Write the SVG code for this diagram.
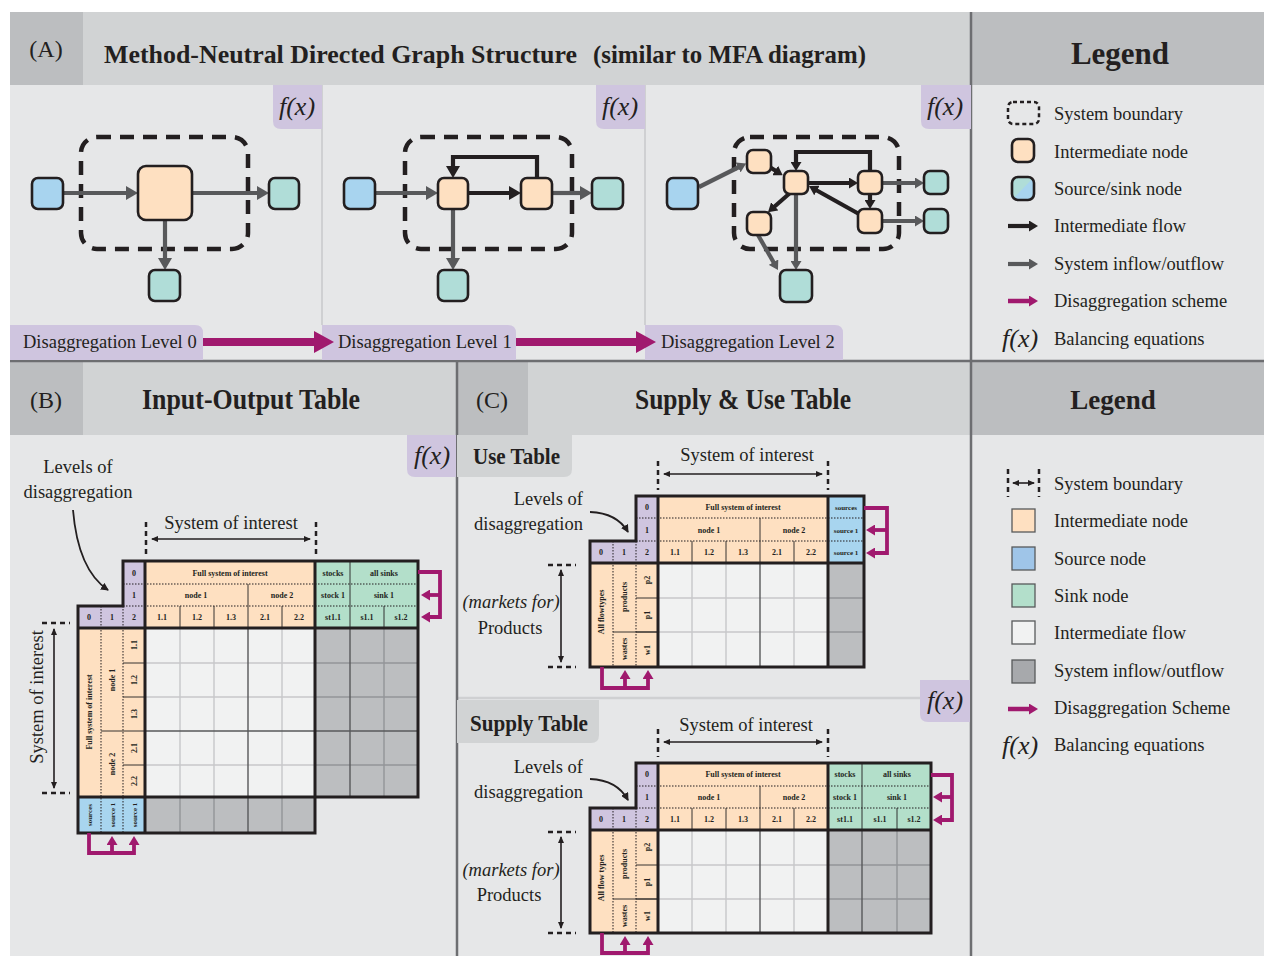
<svg xmlns="http://www.w3.org/2000/svg" width="1264" height="956" viewBox="0 0 1264 956">
<style>
.t{font-family:"Liberation Serif",serif;fill:#231f20}
.ti{font-size:29px;font-weight:bold}
.lb{font-size:24px}
.lg{font-size:18.5px}
.fx{font-size:26px;font-style:italic}
.tb{font-size:8px;font-weight:bold;text-anchor:middle}
.tbs{font-size:7px;font-weight:bold;text-anchor:middle}
.nd{stroke:#231f20;stroke-width:2.6}
.src{fill:#a8d4ef}.snk{fill:#b0ddd8}.mid{fill:#fee0c1}
.fg{stroke:#58595b;stroke-width:4.2;fill:none}
.fb{stroke:#231f20;stroke-width:4.2;fill:none}
.bd{fill:none;stroke:#231f20;stroke-width:4.5;stroke-dasharray:14 9}
.pu{fill:#cfc5df}.pe{fill:#fee0c1}.gr{fill:#b3dfca}.bl{fill:#a8d5ef}.wh{fill:#f1f2f2}.gy{fill:#bcbec0}
.dot{stroke:#231f20;stroke-width:1;stroke-dasharray:1.5 1.5;fill:none}
.sol{stroke:#231f20;stroke-width:0.9;fill:none}
.gl{stroke:#c7c8ca;stroke-width:1.4;fill:none}
.gm{stroke:#58595b;stroke-width:1.4;fill:none}
.gd{stroke:#939598;stroke-width:1.4;fill:none}
.thk{stroke:#231f20;stroke-width:3;fill:none}
.tick{stroke:#231f20;stroke-width:2.5;stroke-dasharray:5 4;fill:none}
.dbl{stroke:#231f20;stroke-width:1.6;fill:none;marker-start:url(#ak);marker-end:url(#ak)}
.mg{stroke:#a0196e;stroke-width:3.8;fill:none}
.hdr{fill:#d1d3d4}.hdd{fill:#bcbec0}.body{fill:#e6e7e8}
</style>
<defs>
<marker id="ag" viewBox="0 0 12 14" markerWidth="12" markerHeight="14" refX="1" refY="7" orient="auto" markerUnits="userSpaceOnUse"><path d="M0,0 L12,7 L0,14 Z" fill="#58595b"/></marker>
<marker id="ab" viewBox="0 0 12 14" markerWidth="12" markerHeight="14" refX="1" refY="7" orient="auto" markerUnits="userSpaceOnUse"><path d="M0,0 L12,7 L0,14 Z" fill="#231f20"/></marker>
<marker id="ags" viewBox="0 0 9 11" markerWidth="9" markerHeight="11" refX="1" refY="5.5" orient="auto" markerUnits="userSpaceOnUse"><path d="M0,0 L9,5.5 L0,11 Z" fill="#58595b"/></marker>
<marker id="abs" viewBox="0 0 9 11" markerWidth="9" markerHeight="11" refX="1" refY="5.5" orient="auto" markerUnits="userSpaceOnUse"><path d="M0,0 L9,5.5 L0,11 Z" fill="#231f20"/></marker>
<marker id="am" viewBox="0 0 9 11" markerWidth="9" markerHeight="11" refX="1" refY="5.5" orient="auto" markerUnits="userSpaceOnUse"><path d="M0,0 L9,5.5 L0,11 Z" fill="#a0196e"/></marker>
<marker id="ak" viewBox="0 0 7 6" markerWidth="7" markerHeight="6" refX="6" refY="3" orient="auto-start-reverse" markerUnits="userSpaceOnUse"><path d="M0,0 L7,3 L0,6 Z" fill="#231f20"/></marker>
<marker id="akc" viewBox="0 0 8 8" markerWidth="8" markerHeight="8" refX="7" refY="4" orient="auto" markerUnits="userSpaceOnUse"><path d="M0,0 L8,4 L0,8 Z" fill="#231f20"/></marker>
<clipPath id="ssclip"><rect x="1012" y="177" width="22" height="23" rx="6"/></clipPath>
</defs>

<!-- backgrounds -->
<rect x="0" y="0" width="1264" height="956" fill="#ffffff"/>
<g id="panelA-bg">
<rect class="hdr" x="10" y="12" width="961" height="73"/>
<rect class="hdd" x="10" y="12" width="73" height="73"/>
<rect class="body" x="10" y="85" width="961" height="276"/>
<rect class="hdd" x="971" y="12" width="293" height="73"/>
<rect class="body" x="971" y="85" width="293" height="276"/>
<path d="M322,85 V325 M645,85 V325" stroke="#cfd0d2" stroke-width="2" fill="none"/>
</g>
<g id="panelBC-bg">
<rect class="hdr" x="10" y="361" width="447" height="74"/>
<rect class="hdd" x="10" y="361" width="73" height="74"/>
<rect class="body" x="10" y="435" width="447" height="521"/>
<rect class="hdr" x="457" y="361" width="514" height="74"/>
<rect class="hdd" x="457" y="361" width="71" height="74"/>
<rect class="body" x="457" y="435" width="514" height="521"/>
<rect class="hdd" x="971" y="361" width="293" height="74"/>
<rect class="body" x="971" y="435" width="293" height="521"/>
<path d="M457,698 H971" stroke="#cfd0d2" stroke-width="2.5" fill="none"/>
</g>
<g id="separators">
<path d="M10,361 H1264" stroke="#6d6e71" stroke-width="2.5"/>
<path d="M971,12 V956" stroke="#6d6e71" stroke-width="2.5"/>
<path d="M457,361 V956" stroke="#6d6e71" stroke-width="2.5"/>
</g>

<!-- headers -->
<g id="headers">
<text class="t lb" x="46" y="57" text-anchor="middle">(A)</text>
<text class="t" x="104" y="63" font-size="26" font-weight="bold" textLength="473" lengthAdjust="spacingAndGlyphs">Method-Neutral Directed Graph Structure</text>
<text class="t" x="593" y="63" font-size="26" font-weight="bold" textLength="273" lengthAdjust="spacingAndGlyphs">(similar to MFA diagram)</text>
<text class="t" x="1120" y="64" text-anchor="middle" font-size="31" font-weight="bold">Legend</text>
<text class="t lb" x="46" y="408" text-anchor="middle">(B)</text>
<text class="t ti" x="251" y="409" text-anchor="middle" textLength="218" lengthAdjust="spacingAndGlyphs">Input-Output Table</text>
<text class="t lb" x="492" y="408" text-anchor="middle">(C)</text>
<text class="t ti" x="743" y="409" text-anchor="middle" textLength="216" lengthAdjust="spacingAndGlyphs">Supply &amp; Use Table</text>
<text class="t" x="1113" y="409" text-anchor="middle" font-size="27" font-weight="bold">Legend</text>
</g>

<!-- f(x) tags -->
<g id="fx-tags">
<path d="M273,85 H322 V129 H281 Q273,129 273,121 Z" class="pu"/>
<text class="t fx" x="297" y="115" text-anchor="middle">f(x)</text>
<path d="M596,85 H645 V129 H604 Q596,129 596,121 Z" class="pu"/>
<text class="t fx" x="620" y="115" text-anchor="middle">f(x)</text>
<path d="M921,85 H971 V129 H929 Q921,129 921,121 Z" class="pu"/>
<text class="t fx" x="945" y="115" text-anchor="middle">f(x)</text>
<path d="M407,435 H456 V477 H415 Q407,477 407,469 Z" class="pu"/>
<text class="t fx" x="432" y="464" text-anchor="middle">f(x)</text>
<path d="M920,680 H970 V722 H928 Q920,722 920,714 Z" class="pu"/>
<text class="t fx" x="945" y="709" text-anchor="middle">f(x)</text>
</g>

<!-- level labels -->
<g id="level-labels">
<path d="M10,325 H195 Q203,325 203,333 V360 H10 Z" class="pu"/>
<text class="t lg" x="23" y="348">Disaggregation Level 0</text>
<path d="M322,325 H508 Q516,325 516,333 V360 H322 Z" class="pu"/>
<text class="t lg" x="338" y="348">Disaggregation Level 1</text>
<path d="M645,325 H835 Q843,325 843,333 V360 H645 Z" class="pu"/>
<text class="t lg" x="661" y="348">Disaggregation Level 2</text>
<path d="M203,338 H314 V331 L334,342 L314,353 V346 H203 Z" fill="#a0196e"/>
<path d="M516,338 H636 V331 L656,342 L636,353 V346 H516 Z" fill="#a0196e"/>
</g>

<!-- Level 0 -->
<g id="level0">
<rect class="bd" x="81" y="137" width="167" height="112" rx="16"/>
<g id="l0-connectors">
<path class="fg" d="M63,193 H127" marker-end="url(#ag)"/>
<path class="fg" d="M192,193 H258" marker-end="url(#ag)"/>
<path class="fg" d="M165,220 V259" marker-end="url(#ag)"/>
</g>
<g id="l0-source"><rect class="nd src" x="32" y="178" width="31" height="31" rx="6"/></g>
<g id="l0-node"><rect class="nd mid" x="138" y="166" width="54" height="54" rx="8"/></g>
<g id="l0-sink1"><rect class="nd snk" x="269" y="178" width="30" height="31" rx="6"/></g>
<g id="l0-sink2"><rect class="nd snk" x="149" y="270" width="31" height="31" rx="6"/></g>
</g>

<!-- Level 1 -->
<g id="level1">
<rect class="bd" x="405" y="137" width="167" height="112" rx="16"/>
<g id="l1-connectors">
<path class="fg" d="M375,193 H427" marker-end="url(#ag)"/>
<path class="fb" d="M468,193 H510" marker-end="url(#ab)"/>
<path class="fb" d="M537,178 V157 H453 V167" marker-end="url(#ab)"/>
<path class="fg" d="M453,209 V259" marker-end="url(#ag)"/>
<path class="fg" d="M552,193 H581" marker-end="url(#ag)"/>
</g>
<g id="l1-source"><rect class="nd src" x="344" y="178" width="31" height="31" rx="6"/></g>
<g id="l1-node1"><rect class="nd mid" x="438" y="178" width="30" height="31" rx="6"/></g>
<g id="l1-node2"><rect class="nd mid" x="521" y="178" width="31" height="31" rx="6"/></g>
<g id="l1-sink1"><rect class="nd snk" x="592" y="178" width="31" height="31" rx="6"/></g>
<g id="l1-sink2"><rect class="nd snk" x="438" y="270" width="30" height="31" rx="6"/></g>
</g>

<!-- Level 2 -->
<g id="level2">
<rect class="bd" x="734" y="137" width="165" height="112" rx="16"/>
<g id="l2-connectors">
<path class="fg" d="M699,187 L739,167" marker-end="url(#ags)"/>
<path class="fb" d="M768,166 L776,171" marker-end="url(#abs)"/>
<path class="fb" d="M808,183 H850" marker-end="url(#abs)"/>
<path class="fb" d="M870,171 V152 H796 V163" marker-end="url(#abs)"/>
<path class="fb" d="M870,194 V201" marker-end="url(#abs)"/>
<path class="fb" d="M859,214 L816,190" marker-end="url(#abs)"/>
<path class="fb" d="M790,193 L774,207" marker-end="url(#abs)"/>
<path class="fg" d="M796,194 V262" marker-end="url(#ags)"/>
<path class="fg" d="M758,235 L774,263" marker-end="url(#ags)"/>
<path class="fg" d="M882,183 H916" marker-end="url(#ags)"/>
<path class="fg" d="M882,221 H916" marker-end="url(#ags)"/>
</g>
<g id="l2-source"><rect class="nd src" x="667" y="178" width="31" height="31" rx="6"/></g>
<g id="l2-a"><rect class="nd mid" x="747" y="150" width="24" height="23" rx="6"/></g>
<g id="l2-b"><rect class="nd mid" x="784" y="171" width="24" height="23" rx="6"/></g>
<g id="l2-c"><rect class="nd mid" x="858" y="171" width="24" height="23" rx="6"/></g>
<g id="l2-d"><rect class="nd mid" x="858" y="209" width="24" height="24" rx="6"/></g>
<g id="l2-e"><rect class="nd mid" x="747" y="212" width="24" height="23" rx="6"/></g>
<g id="l2-sink1"><rect class="nd snk" x="924" y="171" width="24" height="23" rx="6"/></g>
<g id="l2-sink2"><rect class="nd snk" x="924" y="209" width="24" height="24" rx="6"/></g>
<g id="l2-sink3"><rect class="nd snk" x="780" y="270" width="32" height="32" rx="6"/></g>
</g>

<!-- Legend A -->
<g id="legendA">
<rect x="1008" y="102" width="31" height="22" rx="5" fill="none" stroke="#231f20" stroke-width="2.5" stroke-dasharray="4 3"/>
<rect class="nd mid" x="1012" y="139" width="22" height="23" rx="6"/>
<rect x="1012" y="177" width="22" height="23" fill="#a8d4ef" clip-path="url(#ssclip)"/>
<path d="M1012,177 H1034 L1012,200 Z" fill="#b0ddd8" clip-path="url(#ssclip)"/>
<rect x="1012" y="177" width="22" height="23" rx="6" fill="none" stroke="#231f20" stroke-width="2.6"/>
<path class="fb" d="M1008,226 H1030" marker-end="url(#abs)"/>
<path class="fg" d="M1008,264 H1030" marker-end="url(#ags)"/>
<path d="M1008,301 H1030" stroke="#a0196e" stroke-width="4.5" marker-end="url(#am)"/>
<text class="t fx" x="1002" y="347">f(x)</text>
<text class="t lg" x="1054" y="120">System boundary</text>
<text class="t lg" x="1054" y="158">Intermediate node</text>
<text class="t lg" x="1054" y="195">Source/sink node</text>
<text class="t lg" x="1054" y="232">Intermediate flow</text>
<text class="t lg" x="1054" y="270">System inflow/outflow</text>
<text class="t lg" x="1054" y="307">Disaggregation scheme</text>
<text class="t lg" x="1054" y="345">Balancing equations</text>
</g>

<!-- Panel B: Input-Output table -->
<g id="io-annotations">
<text class="t lg" x="78" y="473" text-anchor="middle">Levels of</text>
<text class="t lg" x="78" y="498" text-anchor="middle">disaggregation</text>
<path d="M73,510 Q78,570 108,590" fill="none" stroke="#231f20" stroke-width="1.8" marker-end="url(#akc)"/>
<text class="t lg" x="231" y="529" text-anchor="middle">System of interest</text>
<path class="tick" d="M146,522 V555 M316,522 V555"/>
<path class="dbl" d="M152,539 H310"/>
<text class="t lg" transform="translate(43,697) rotate(-90)" text-anchor="middle">System of interest</text>
<path class="tick" d="M42,623 H70 M42,793 H70"/>
<path class="dbl" d="M54,629 V788"/>
</g>
<g id="io-table">
<rect class="pu" x="123" y="561" width="22" height="67"/>
<rect class="pu" x="78" y="606" width="45" height="22"/>
<rect class="pe" x="145" y="561" width="170" height="67"/>
<rect class="gr" x="315" y="561" width="103" height="67"/>
<rect class="pe" x="78" y="628" width="67" height="169"/>
<rect class="wh" x="145" y="628" width="170" height="169"/>
<rect class="gy" x="315" y="628" width="103" height="169"/>
<rect class="bl" x="78" y="797" width="67" height="36"/>
<rect class="gy" x="145" y="797" width="170" height="36"/>
<path class="dot" d="M123,584 H418 M123,606 H418 M101,606 V833 M123,606 V833"/>
<path class="sol" d="M248,584 V628 M180,606 V628 M214,606 V628 M282,606 V628 M350,561 V628 M384,606 V628 M101,731 H145 M123,663 H145 M123,697 H145 M123,765 H145"/>
<path class="gl" d="M180,628 V797 M214,628 V797 M282,628 V797 M145,663 H315 M145,697 H315 M145,765 H315"/>
<path class="gd" d="M384,628 V797 M315,663 H418 M315,697 H418 M315,765 H418 M180,797 V833 M214,797 V833 M282,797 V833"/>
<path class="gm" d="M248,628 V833 M145,731 H418 M350,628 V797"/>
<path class="thk" d="M123,561 H418 V797 H315 V833 H78 V606 H123 Z M145,561 V833 M315,561 V797 M78,628 H418 M78,797 H315"/>
<text class="t tb" x="134" y="576">0</text>
<text class="t tb" x="134" y="598">1</text>
<text class="t tb" x="134" y="620">2</text>
<text class="t tb" x="89" y="620">0</text>
<text class="t tb" x="112" y="620">1</text>
<text class="t tb" x="230" y="576">Full system of interest</text>
<text class="t tb" x="196" y="598">node 1</text>
<text class="t tb" x="282" y="598">node 2</text>
<text class="t tb" x="162" y="620">1.1</text>
<text class="t tb" x="197" y="620">1.2</text>
<text class="t tb" x="231" y="620">1.3</text>
<text class="t tb" x="265" y="620">2.1</text>
<text class="t tb" x="299" y="620">2.2</text>
<text class="t tb" x="333" y="576">stocks</text>
<text class="t tb" x="384" y="576">all sinks</text>
<text class="t tb" x="333" y="598">stock 1</text>
<text class="t tb" x="384" y="598">sink 1</text>
<text class="t tb" x="333" y="620">st1.1</text>
<text class="t tb" x="367" y="620">s1.1</text>
<text class="t tb" x="401" y="620">s1.2</text>
<text class="t tb" transform="translate(92,712) rotate(-90)">Full system of interest</text>
<text class="t tb" transform="translate(115,680) rotate(-90)">node 1</text>
<text class="t tb" transform="translate(115,764) rotate(-90)">node 2</text>
<text class="t tb" transform="translate(137,645) rotate(-90)">1.1</text>
<text class="t tb" transform="translate(137,680) rotate(-90)">1.2</text>
<text class="t tb" transform="translate(137,714) rotate(-90)">1.3</text>
<text class="t tb" transform="translate(137,748) rotate(-90)">2.1</text>
<text class="t tb" transform="translate(137,781) rotate(-90)">2.2</text>
<text class="t tbs" transform="translate(92,815) rotate(-90)">sources</text>
<text class="t tbs" transform="translate(115,815) rotate(-90)">source 1</text>
<text class="t tbs" transform="translate(137,815) rotate(-90)">source 1</text>
</g>
<g id="io-disagg-arrows">
<path class="mg" d="M418,572 H440 V617 H429" marker-end="url(#am)"/>
<path class="mg" d="M440,595 H429" marker-end="url(#am)"/>
<path class="mg" d="M89,833 V853 H134 V844" marker-end="url(#am)"/>
<path class="mg" d="M112,853 V844" marker-end="url(#am)"/>
</g>

<!-- Panel C: Use table -->
<g id="use-tab">
<path d="M457,435 H572 V469 Q572,477 564,477 H457 Z" fill="#d1d3d4"/>
<text class="t" x="473" y="464" font-size="23" font-weight="bold" textLength="87" lengthAdjust="spacingAndGlyphs">Use Table</text>
</g>
<g id="use-annotations">
<text class="t lg" x="583" y="505" text-anchor="end">Levels of</text>
<text class="t lg" x="583" y="530" text-anchor="end">disaggregation</text>
<path d="M590,512 Q617,513 628,532" fill="none" stroke="#231f20" stroke-width="1.8" marker-end="url(#akc)"/>
<text class="t lg" x="747" y="461" text-anchor="middle">System of interest</text>
<path class="tick" d="M658,461 V490 M828,461 V490"/>
<path class="dbl" d="M664,474 H822"/>
<text class="t lg" x="511" y="608" text-anchor="middle" font-style="italic">(markets for)</text>
<text class="t lg" x="510" y="634" text-anchor="middle">Products</text>
<path class="tick" d="M548,565 H576 M548,667 H576"/>
<path class="dbl" d="M561,570 V662"/>
</g>
<g id="use-table">
<rect class="pu" x="636" y="496" width="22" height="67"/>
<rect class="pu" x="590" y="541" width="46" height="22"/>
<rect class="pe" x="658" y="496" width="170" height="67"/>
<rect class="bl" x="828" y="496" width="36" height="67"/>
<rect class="pe" x="590" y="563" width="68" height="104"/>
<rect class="wh" x="658" y="563" width="170" height="104"/>
<rect class="gy" x="828" y="563" width="36" height="104"/>
<path class="dot" d="M636,518 H864 M636,541 H864 M613,541 V667 M636,541 V667"/>
<path class="sol" d="M760,518 V563 M692,541 V563 M726,541 V563 M794,541 V563 M613,632 H658 M636,598 H658 M636,632 H658"/>
<path class="gl" d="M692,563 V667 M726,563 V667 M794,563 V667 M658,598 H828 M658,632 H828"/>
<path class="gd" d="M828,598 H864 M828,632 H864"/>
<path class="gm" d="M760,563 V667"/>
<path class="thk" d="M636,496 H864 V667 H590 V541 H636 Z M658,496 V667 M828,496 V667 M590,563 H864"/>
<text class="t tb" x="647" y="510">0</text>
<text class="t tb" x="647" y="533">1</text>
<text class="t tb" x="647" y="555">2</text>
<text class="t tb" x="601" y="555">0</text>
<text class="t tb" x="624" y="555">1</text>
<text class="t tb" x="743" y="510">Full system of interest</text>
<text class="t tb" x="709" y="533">node 1</text>
<text class="t tb" x="794" y="533">node 2</text>
<text class="t tb" x="675" y="555">1.1</text>
<text class="t tb" x="709" y="555">1.2</text>
<text class="t tb" x="743" y="555">1.3</text>
<text class="t tb" x="777" y="555">2.1</text>
<text class="t tb" x="811" y="555">2.2</text>
<text class="t tbs" x="846" y="510">sources</text>
<text class="t tbs" x="846" y="533">source 1</text>
<text class="t tbs" x="846" y="555">source 1</text>
<text class="t tb" transform="translate(604,612) rotate(-90)">All flowtypes</text>
<text class="t tb" transform="translate(627,597) rotate(-90)">products</text>
<text class="t tb" transform="translate(627,649) rotate(-90)">wastes</text>
<text class="t tb" transform="translate(650,580) rotate(-90)">p2</text>
<text class="t tb" transform="translate(650,615) rotate(-90)">p1</text>
<text class="t tb" transform="translate(650,650) rotate(-90)">w1</text>
</g>
<g id="use-disagg-arrows">
<path class="mg" d="M864,508 H887 V553 H874" marker-end="url(#am)"/>
<path class="mg" d="M887,530 H874" marker-end="url(#am)"/>
<path class="mg" d="M602,667 V688 H648 V678" marker-end="url(#am)"/>
<path class="mg" d="M625,688 V678" marker-end="url(#am)"/>
</g>

<!-- Panel C: Supply table -->
<g id="supply-tab">
<path d="M457,700 H599 V735 Q599,743 591,743 H457 Z" fill="#d1d3d4"/>
<text class="t" x="470" y="731" font-size="23" font-weight="bold" textLength="118" lengthAdjust="spacingAndGlyphs">Supply Table</text>
</g>
<g id="supply-annotations">
<text class="t lg" x="583" y="773" text-anchor="end">Levels of</text>
<text class="t lg" x="583" y="798" text-anchor="end">disaggregation</text>
<path d="M590,779 Q617,780 628,800" fill="none" stroke="#231f20" stroke-width="1.8" marker-end="url(#akc)"/>
<text class="t lg" x="746" y="731" text-anchor="middle">System of interest</text>
<path class="tick" d="M658,729 V757 M828,729 V757"/>
<path class="dbl" d="M664,742 H822"/>
<text class="t lg" x="511" y="876" text-anchor="middle" font-style="italic">(markets for)</text>
<text class="t lg" x="509" y="901" text-anchor="middle">Products</text>
<path class="tick" d="M548,832 H576 M548,933 H576"/>
<path class="dbl" d="M561,837 V928"/>
</g>
<g id="supply-table">
<rect class="pu" x="636" y="763" width="22" height="67"/>
<rect class="pu" x="590" y="808" width="46" height="22"/>
<rect class="pe" x="658" y="763" width="170" height="67"/>
<rect class="gr" x="828" y="763" width="103" height="67"/>
<rect class="pe" x="590" y="830" width="68" height="103"/>
<rect class="wh" x="658" y="830" width="170" height="103"/>
<rect class="gy" x="828" y="830" width="103" height="103"/>
<path class="dot" d="M636,786 H931 M636,808 H931 M613,808 V933 M636,808 V933"/>
<path class="sol" d="M760,786 V830 M692,808 V830 M726,808 V830 M794,808 V830 M862,763 V830 M897,808 V830 M613,899 H658 M636,865 H658 M636,899 H658"/>
<path class="gl" d="M692,830 V933 M726,830 V933 M794,830 V933 M658,865 H828 M658,899 H828"/>
<path class="gd" d="M897,830 V933 M828,865 H931 M828,899 H931"/>
<path class="gm" d="M760,830 V933 M862,830 V933"/>
<path class="thk" d="M636,763 H931 V933 H590 V808 H636 Z M658,763 V933 M828,763 V933 M590,830 H931"/>
<text class="t tb" x="647" y="777">0</text>
<text class="t tb" x="647" y="800">1</text>
<text class="t tb" x="647" y="822">2</text>
<text class="t tb" x="601" y="822">0</text>
<text class="t tb" x="624" y="822">1</text>
<text class="t tb" x="743" y="777">Full system of interest</text>
<text class="t tb" x="709" y="800">node 1</text>
<text class="t tb" x="794" y="800">node 2</text>
<text class="t tb" x="675" y="822">1.1</text>
<text class="t tb" x="709" y="822">1.2</text>
<text class="t tb" x="743" y="822">1.3</text>
<text class="t tb" x="777" y="822">2.1</text>
<text class="t tb" x="811" y="822">2.2</text>
<text class="t tb" x="845" y="777">stocks</text>
<text class="t tb" x="897" y="777">all sinks</text>
<text class="t tb" x="845" y="800">stock 1</text>
<text class="t tb" x="897" y="800">sink 1</text>
<text class="t tb" x="845" y="822">st1.1</text>
<text class="t tb" x="880" y="822">s1.1</text>
<text class="t tb" x="914" y="822">s1.2</text>
<text class="t tb" transform="translate(604,878) rotate(-90)">All flow types</text>
<text class="t tb" transform="translate(627,864) rotate(-90)">products</text>
<text class="t tb" transform="translate(627,916) rotate(-90)">wastes</text>
<text class="t tb" transform="translate(650,847) rotate(-90)">p2</text>
<text class="t tb" transform="translate(650,882) rotate(-90)">p1</text>
<text class="t tb" transform="translate(650,916) rotate(-90)">w1</text>
</g>
<g id="supply-disagg-arrows">
<path class="mg" d="M931,775 H952 V820 H941" marker-end="url(#am)"/>
<path class="mg" d="M952,797 H941" marker-end="url(#am)"/>
<path class="mg" d="M602,933 V953 H648 V944" marker-end="url(#am)"/>
<path class="mg" d="M625,953 V944" marker-end="url(#am)"/>
</g>

<!-- Legend B/C -->
<g id="legendBC">
<path class="tick" d="M1008,469 V497 M1039,469 V497" stroke-dasharray="4 3.5"/>
<path class="dbl" d="M1013,483 H1034"/>
<rect x="1012" y="509" width="23" height="23" fill="#fee0c1" stroke="#58595b" stroke-width="1.3"/>
<rect x="1012" y="547" width="23" height="23" fill="#9fc5e8" stroke="#58595b" stroke-width="1.3"/>
<rect x="1012" y="584" width="23" height="23" fill="#b3dfcb" stroke="#58595b" stroke-width="1.3"/>
<rect x="1012" y="621" width="23" height="23" fill="#f1f2f2" stroke="#58595b" stroke-width="1.3"/>
<rect x="1012" y="660" width="23" height="23" fill="#a7a9ac" stroke="#58595b" stroke-width="1.3"/>
<path d="M1008,709 H1030" stroke="#a0196e" stroke-width="4.5" marker-end="url(#am)"/>
<text class="t fx" x="1002" y="754">f(x)</text>
<text class="t lg" x="1054" y="490">System boundary</text>
<text class="t lg" x="1054" y="527">Intermediate node</text>
<text class="t lg" x="1054" y="565">Source node</text>
<text class="t lg" x="1054" y="602">Sink node</text>
<text class="t lg" x="1054" y="639">Intermediate flow</text>
<text class="t lg" x="1054" y="677">System inflow/outflow</text>
<text class="t lg" x="1054" y="714">Disaggregation Scheme</text>
<text class="t lg" x="1054" y="751">Balancing equations</text>
</g>
</svg>
